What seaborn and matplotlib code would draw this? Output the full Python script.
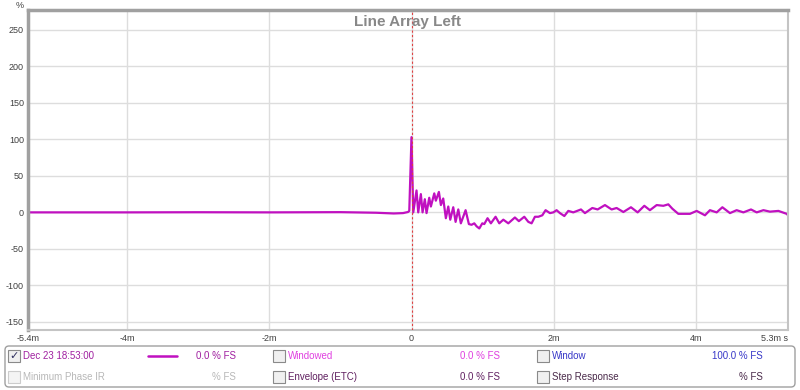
import matplotlib.pyplot as plt
import matplotlib.patches as mpatches
import seaborn as sns
import pandas as pd

# impulse response (time in ms, level in % FS)
time_ms = [-5.4, -4.0, -3.0, -2.0, -1.0, -0.5, -0.25, -0.12, -0.05, -0.032, -0.001, 0.024,
           0.070, 0.094, 0.131, 0.155, 0.187, 0.211, 0.249, 0.272, 0.320, 0.342, 0.385, 0.413,
           0.446, 0.483, 0.517, 0.545, 0.587, 0.620, 0.658, 0.694, 0.761, 0.807, 0.845, 0.883,
           0.915, 0.954, 0.996, 1.024, 1.070, 1.117, 1.183, 1.235, 1.292, 1.362, 1.455, 1.511,
           1.587, 1.644, 1.690, 1.737, 1.785, 1.841, 1.887, 1.948, 1.996, 2.042, 2.089, 2.151,
           2.207, 2.277, 2.385, 2.441, 2.545, 2.620, 2.723, 2.817, 2.887, 2.982, 3.089, 3.183,
           3.277, 3.356, 3.451, 3.545, 3.615, 3.672, 3.756, 3.920, 4.014, 4.131, 4.201, 4.296,
           4.376, 4.483, 4.577, 4.672, 4.779, 4.859, 4.954, 5.046, 5.165, 5.282, 5.3]
level_pct = [0, 0, 0.2, 0, 0.3, -0.5, -1.5, -1, 0.5, 2, 103, 0,
             30, 0, 25, 0, 18, -1, 20, 8, 26, 16, 28, 10,
             19, -8, 8, -10, 7, -13, 4, -15, 3, -16, -17, -15,
             -19, -22, -15, -16, -8, -15, -6, -15, -10, -15, -7, -12,
             -6, -13, -15, -6, -6, -4, 3, -1, 0, 3, -1, -5,
             2, 0, 4, -1, 6, 4, 10, 4, 6, 0.5, 7, 0,
             9, 3, 10, 9, 11, 5, -2, -2, 2, -4, 3, 0,
             7, -1, 3, 0, 4, 0, 3, 1, 2, -2, -4]

x_ticks = [-5.4, -4, -2, 0, 2, 4, 5.3]
x_labels = ["-5.4m", "-4m", "-2m", "0", "2m", "4m", "5.3m s"]
y_ticks = [-150, -100, -50, 0, 50, 100, 150, 200, 250]

df = pd.DataFrame({"t": time_ms, "v": level_pct})

sns.set_style("white")
plt.rcParams["font.family"] = ["Liberation Sans", "DejaVu Sans"]

fig = plt.figure(figsize=(8, 3.9), dpi=100)
ax = fig.add_axes([28 / 800, 1 - 330 / 390, 760 / 800, 320 / 390])

sns.lineplot(data=df, x="t", y="v", ax=ax, color="#c010c0", linewidth=1.6)
ax.axvline(0, color="#e04040", linestyle=(0, (2, 2)), linewidth=0.8, zorder=3)

ax.set_xlim(-5.4, 5.3)
ax.set_ylim(-161, 277)
ax.set_xticks(x_ticks)
ax.set_xticklabels(x_labels)
ax.set_yticks(y_ticks)
ax.set_yticklabels([str(v) for v in y_ticks])
ax.tick_params(length=0, labelsize=6.5, colors="#404040", pad=3)
# last label carries the unit, push it to the right edge like the original
last = ax.get_xticklabels()[-1]
last.set_horizontalalignment("right")
last.set_x(5.3 + 0.12)
ax.grid(True, color="#dddddd", linewidth=1)
ax.set_xlabel("")
ax.set_ylabel("")
for side in ["left", "top"]:
    ax.spines[side].set_color("#a0a0a0")
    ax.spines[side].set_linewidth(2.5)
for side in ["right", "bottom"]:
    ax.spines[side].set_color("#c4c4c4")
    ax.spines[side].set_linewidth(1.5)

ax.text(0.5, 0.985, "Line Array Left", transform=ax.transAxes, ha="center", va="top",
        fontsize=11, fontweight="bold", color="#888888")

# overlay in pixel coordinates for the unit and the legend panel
ov = fig.add_axes([0, 0, 1, 1], zorder=-1)
ov.set_xlim(0, 800)
ov.set_ylim(390, 0)
ov.axis("off")
ov.text(20, 5, "%", fontsize=6.5, color="#404040", ha="center", va="center")

panel = mpatches.FancyBboxPatch((5, 346), 790, 41, boxstyle="round,pad=0,rounding_size=4",
                                facecolor="white", edgecolor="#a0a0a0", linewidth=1)
ov.add_patch(panel)

rows = [356, 377]
items = [
    (8, rows[0], True, True, "Dec 23 18:53:00", "#a020a0", 236, "0.0 % FS"),
    (8, rows[1], False, False, "Minimum Phase IR", "#b8b8b8", 236, "% FS"),
    (273, rows[0], True, False, "Windowed", "#e040e0", 500, "0.0 % FS"),
    (273, rows[1], True, False, "Envelope (ETC)", "#602060", 500, "0.0 % FS"),
    (537, rows[0], True, False, "Window", "#3838c8", 763, "100.0 % FS"),
    (537, rows[1], True, False, "Step Response", "#4a2a4a", 763, "% FS"),
]
for bx, by, enabled, checked, label, col, vx, val in items:
    box = mpatches.Rectangle((bx, by - 6), 12, 12, facecolor="#f0f0f0" if enabled else "#f4f4f4",
                             edgecolor="#8a8a8a" if enabled else "#cccccc", linewidth=0.8)
    ov.add_patch(box)
    if checked:
        ov.text(bx + 6, by, "\u2713", family="DejaVu Sans", fontsize=8, color="#303060",
                ha="center", va="center", fontweight="bold")
    ov.text(bx + 15, by, label, fontsize=7, color=col, ha="left", va="center")
    ov.text(vx, by, val, fontsize=7, color=col if enabled else "#b8b8b8", ha="right", va="center")

ov.plot([148, 177], [rows[0], rows[0]], color="#c010c0", linewidth=1.8)

fig.savefig("out.png", dpi=100)
